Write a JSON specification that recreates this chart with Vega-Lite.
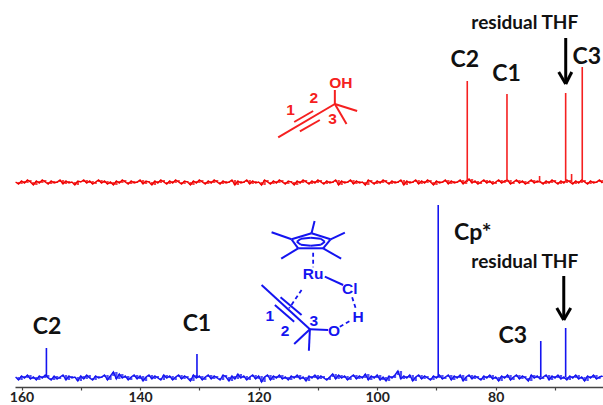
{"$schema":"https://vega.github.io/schema/vega-lite/v6.json","width":588,"height":387,"autosize":{"type":"none"},"padding":{"left":15,"top":0,"right":0,"bottom":18},"background":"white","config":{"view":{"stroke":null}},
"datasets":{
"red":[{"p":161,"v":203},{"p":160.5,"v":201},{"p":160,"v":204},{"p":159.5,"v":202},{"p":159,"v":205},{"p":158.5,"v":203},{"p":158,"v":200},{"p":157.5,"v":204},{"p":157,"v":202},{"p":156.5,"v":205},{"p":156,"v":203},{"p":155.5,"v":201},{"p":155,"v":204},{"p":154.5,"v":202},{"p":154,"v":203},{"p":153.5,"v":205},{"p":153,"v":201},{"p":152.5,"v":204},{"p":152,"v":202},{"p":151.5,"v":203},{"p":151,"v":200},{"p":150.5,"v":204},{"p":150,"v":203},{"p":149.5,"v":205},{"p":149,"v":202},{"p":148.5,"v":204},{"p":148,"v":201},{"p":147.5,"v":203},{"p":147,"v":205},{"p":146.5,"v":202},{"p":146,"v":204},{"p":145.5,"v":201},{"p":145,"v":203},{"p":144.5,"v":200},{"p":144,"v":204},{"p":143.5,"v":202},{"p":143,"v":205},{"p":142.5,"v":203},{"p":142,"v":201},{"p":141.5,"v":204},{"p":141,"v":202},{"p":140.5,"v":203},{"p":140,"v":205},{"p":139.5,"v":201},{"p":139,"v":204},{"p":138.5,"v":203},{"p":138,"v":200},{"p":137.5,"v":204},{"p":137,"v":202},{"p":136.5,"v":205},{"p":136,"v":203},{"p":135.5,"v":201},{"p":135,"v":204},{"p":134.5,"v":202},{"p":134,"v":205},{"p":133.5,"v":203},{"p":133,"v":201},{"p":132.5,"v":204},{"p":132,"v":203},{"p":131.5,"v":200},{"p":131,"v":204},{"p":130.5,"v":202},{"p":130,"v":205},{"p":129.5,"v":203},{"p":129,"v":201},{"p":128.5,"v":204},{"p":128,"v":202},{"p":127.5,"v":205},{"p":127,"v":203},{"p":126.5,"v":201},{"p":126,"v":204},{"p":125.5,"v":202},{"p":125,"v":203},{"p":124.5,"v":205},{"p":124,"v":200},{"p":123.5,"v":204},{"p":123,"v":202},{"p":122.5,"v":203},{"p":122,"v":205},{"p":121.5,"v":201},{"p":121,"v":204},{"p":120.5,"v":202},{"p":120,"v":203},{"p":119.5,"v":200},{"p":119,"v":205},{"p":118.5,"v":203},{"p":118,"v":201},{"p":117.5,"v":204},{"p":117,"v":202},{"p":116.5,"v":205},{"p":116,"v":203},{"p":115.5,"v":201},{"p":115,"v":204},{"p":114.5,"v":203},{"p":114,"v":200},{"p":113.5,"v":204},{"p":113,"v":202},{"p":112.5,"v":205},{"p":112,"v":203},{"p":111.5,"v":201},{"p":111,"v":204},{"p":110.5,"v":202},{"p":110,"v":205},{"p":109.5,"v":203},{"p":109,"v":201},{"p":108.5,"v":204},{"p":108,"v":202},{"p":107.5,"v":203},{"p":107,"v":205},{"p":106.5,"v":200},{"p":106,"v":204},{"p":105.5,"v":202},{"p":105,"v":203},{"p":104.5,"v":205},{"p":104,"v":201},{"p":103.5,"v":204},{"p":103,"v":202},{"p":102.5,"v":203},{"p":102,"v":200},{"p":101.5,"v":205},{"p":101,"v":203},{"p":100.5,"v":201},{"p":100,"v":204},{"p":99.5,"v":202},{"p":99,"v":205},{"p":98.5,"v":203},{"p":98,"v":201},{"p":97.5,"v":204},{"p":97,"v":202},{"p":96.5,"v":203},{"p":96,"v":205},{"p":95.5,"v":200},{"p":95,"v":204},{"p":94.5,"v":202},{"p":94,"v":203},{"p":93.5,"v":205},{"p":93,"v":201},{"p":92.5,"v":204},{"p":92,"v":202},{"p":91.5,"v":205},{"p":91,"v":203},{"p":90.5,"v":200},{"p":90,"v":204},{"p":89.5,"v":202},{"p":89,"v":203},{"p":88.5,"v":205},{"p":88,"v":201},{"p":87.5,"v":204},{"p":87,"v":202},{"p":86.5,"v":203},{"p":86,"v":205},{"p":85.5,"v":201},{"p":85,"v":204},{"p":84.5,"v":206},{"p":84,"v":202},{"p":83.5,"v":204},{"p":83,"v":201},{"p":82.5,"v":203},{"p":82,"v":205},{"p":81.5,"v":202},{"p":81,"v":204},{"p":80.5,"v":201},{"p":80,"v":203},{"p":79.5,"v":205},{"p":79,"v":202},{"p":78.5,"v":204},{"p":78,"v":205},{"p":77.5,"v":201},{"p":77,"v":203},{"p":76.5,"v":205},{"p":76,"v":202},{"p":75.5,"v":204},{"p":75,"v":201},{"p":74.5,"v":203},{"p":74,"v":205},{"p":73.5,"v":202},{"p":73,"v":204},{"p":72.5,"v":203},{"p":72,"v":201},{"p":71.5,"v":204},{"p":71,"v":202},{"p":70.5,"v":205},{"p":70,"v":203},{"p":69.5,"v":201},{"p":69,"v":204},{"p":68.5,"v":202},{"p":68,"v":205},{"p":67.5,"v":203},{"p":67,"v":201},{"p":66.5,"v":204},{"p":66,"v":202},{"p":65.5,"v":205},{"p":65,"v":203},{"p":64.5,"v":201},{"p":64,"v":204},{"p":63.5,"v":202},{"p":63,"v":203},{"p":62.5,"v":205},{"p":62,"v":202}],
"blue":[{"p":161,"v":8},{"p":160.5,"v":5},{"p":160,"v":9},{"p":159.5,"v":7},{"p":159,"v":10},{"p":158.5,"v":6},{"p":158,"v":8},{"p":157.5,"v":5},{"p":157,"v":9},{"p":156.5,"v":7},{"p":156,"v":10},{"p":155.5,"v":7},{"p":155,"v":5},{"p":154.5,"v":9},{"p":154,"v":6},{"p":153.5,"v":8},{"p":153,"v":10},{"p":152.5,"v":5},{"p":152,"v":9},{"p":151.5,"v":7},{"p":151,"v":8},{"p":150.5,"v":4},{"p":150,"v":9},{"p":149.5,"v":6},{"p":149,"v":10},{"p":148.5,"v":7},{"p":148,"v":5},{"p":147.5,"v":9},{"p":147,"v":7},{"p":146.5,"v":8},{"p":146,"v":10},{"p":145.5,"v":5},{"p":145,"v":9},{"p":144.5,"v":13},{"p":144,"v":6},{"p":143.5,"v":11},{"p":143,"v":7},{"p":142.5,"v":9},{"p":142,"v":5},{"p":141.5,"v":8},{"p":141,"v":10},{"p":140.5,"v":6},{"p":140,"v":9},{"p":139.5,"v":4},{"p":139,"v":8},{"p":138.5,"v":10},{"p":138,"v":6},{"p":137.5,"v":9},{"p":137,"v":7},{"p":136.5,"v":5},{"p":136,"v":10},{"p":135.5,"v":7},{"p":135,"v":9},{"p":134.5,"v":5},{"p":134,"v":8},{"p":133.5,"v":10},{"p":133,"v":6},{"p":132.5,"v":9},{"p":132,"v":7},{"p":131.5,"v":4},{"p":131,"v":10},{"p":130.5,"v":7},{"p":130,"v":9},{"p":129.5,"v":5},{"p":129,"v":8},{"p":128.5,"v":10},{"p":128,"v":6},{"p":127.5,"v":9},{"p":127,"v":7},{"p":126.5,"v":5},{"p":126,"v":10},{"p":125.5,"v":8},{"p":125,"v":4},{"p":124.5,"v":9},{"p":124,"v":6},{"p":123.5,"v":11},{"p":123,"v":7},{"p":122.5,"v":9},{"p":122,"v":5},{"p":121.5,"v":8},{"p":121,"v":10},{"p":120.5,"v":6},{"p":120,"v":9},{"p":119.5,"v":3},{"p":119,"v":8},{"p":118.5,"v":10},{"p":118,"v":5},{"p":117.5,"v":9},{"p":117,"v":7},{"p":116.5,"v":10},{"p":116,"v":6},{"p":115.5,"v":8},{"p":115,"v":5},{"p":114.5,"v":9},{"p":114,"v":7},{"p":113.5,"v":10},{"p":113,"v":6},{"p":112.5,"v":8},{"p":112,"v":4},{"p":111.5,"v":9},{"p":111,"v":7},{"p":110.5,"v":10},{"p":110,"v":6},{"p":109.5,"v":9},{"p":109,"v":7},{"p":108.5,"v":5},{"p":108,"v":8},{"p":107.5,"v":11},{"p":107,"v":6},{"p":106.5,"v":10},{"p":106,"v":7},{"p":105.5,"v":9},{"p":105,"v":5},{"p":104.5,"v":8},{"p":104,"v":10},{"p":103.5,"v":6},{"p":103,"v":9},{"p":102.5,"v":7},{"p":102,"v":11},{"p":101.5,"v":5},{"p":101,"v":9},{"p":100.5,"v":7},{"p":100,"v":10},{"p":99.5,"v":5},{"p":99,"v":8},{"p":98.5,"v":4},{"p":98,"v":9},{"p":97.5,"v":7},{"p":97,"v":10},{"p":96.5,"v":14},{"p":96,"v":6},{"p":95.5,"v":9},{"p":95,"v":7},{"p":94.5,"v":10},{"p":94,"v":4},{"p":93.5,"v":8},{"p":93,"v":10},{"p":92.5,"v":6},{"p":92,"v":9},{"p":91.5,"v":7},{"p":91,"v":5},{"p":90.5,"v":9},{"p":90,"v":7},{"p":89.5,"v":10},{"p":89,"v":6},{"p":88.5,"v":8},{"p":88,"v":10},{"p":87.5,"v":5},{"p":87,"v":9},{"p":86.5,"v":7},{"p":86,"v":10},{"p":85.5,"v":4},{"p":85,"v":8},{"p":84.5,"v":10},{"p":84,"v":6},{"p":83.5,"v":9},{"p":83,"v":7},{"p":82.5,"v":5},{"p":82,"v":9},{"p":81.5,"v":7},{"p":81,"v":10},{"p":80.5,"v":6},{"p":80,"v":8},{"p":79.5,"v":4},{"p":79,"v":9},{"p":78.5,"v":7},{"p":78,"v":10},{"p":77.5,"v":5},{"p":77,"v":8},{"p":76.5,"v":10},{"p":76,"v":6},{"p":75.5,"v":9},{"p":75,"v":7},{"p":74.5,"v":4},{"p":74,"v":10},{"p":73.5,"v":7},{"p":73,"v":9},{"p":72.5,"v":6},{"p":72,"v":8},{"p":71.5,"v":10},{"p":71,"v":5},{"p":70.5,"v":9},{"p":70,"v":7},{"p":69.5,"v":10},{"p":69,"v":6},{"p":68.5,"v":8},{"p":68,"v":5},{"p":67.5,"v":9},{"p":67,"v":7},{"p":66.5,"v":10},{"p":66,"v":6},{"p":65.5,"v":8},{"p":65,"v":4},{"p":64.5,"v":9},{"p":64,"v":7},{"p":63.5,"v":10},{"p":63,"v":6},{"p":62.5,"v":8},{"p":62,"v":9}]
},
"data":{"values":[{}]},
"layer":[
{"data":{"name":"red"},"mark":{"type":"line","color":"#f00000","strokeWidth":1.4,"clip":true},"encoding":{"x":{"field":"p","type":"quantitative","scale":{"domain":[161.1,61.9],"nice":false,"zero":false},"axis":{"values":[160,155,150,145,140,135,130,125,120,115,110,105,100,95,90,85,80,75,70,65],"labelExpr":"datum.value%20==0?datum.value:''","title":null,"grid":false,"tickSize":3,"domainColor":"#444444","tickColor":"#444444","domainWidth":1.5,"tickWidth":1.2,"labelFont":"Lato","labelFontWeight":"bold","labelFontSize":14,"labelColor":"#222222","labelPadding":0,"labelOverlap":false,"labelFlush":false}},"y":{"field":"v","type":"quantitative","scale":{"domain":[-2,385],"nice":false,"zero":false},"axis":null},"order":{"field":"p","type":"quantitative","sort":"descending"}}},
{"data":{"name":"blue"},"mark":{"type":"line","color":"#1414f0","strokeWidth":1.4,"clip":true},"encoding":{"x":{"field":"p","type":"quantitative"},"y":{"field":"v","type":"quantitative"},"order":{"field":"p","type":"quantitative","sort":"descending"}}},
{"data":{"name":"red"},"transform":[{"window":[{"op":"lag","field":"v","as":"w"}]},{"filter":"isValid(datum.w)"}],"mark":{"type":"rule","color":"#f00000","strokeWidth":2.4,"opacity":0.75,"clip":true},"encoding":{"x":{"field":"p","type":"quantitative"},"y":{"field":"v","type":"quantitative"},"y2":{"field":"w"}}},
{"data":{"name":"blue"},"transform":[{"window":[{"op":"lag","field":"v","as":"w"}]},{"filter":"isValid(datum.w)"}],"mark":{"type":"rule","color":"#1414f0","strokeWidth":2.4,"opacity":0.75,"clip":true},"encoding":{"x":{"field":"p","type":"quantitative"},"y":{"field":"v","type":"quantitative"},"y2":{"field":"w"}}},
{"data":{"values":[
{"p":84.8,"b":203,"t":304,"c":"r"},{"p":78.1,"b":203,"t":291,"c":"r"},{"p":68.2,"b":203,"t":292,"c":"r"},{"p":65.4,"b":203,"t":318,"c":"r"},{"p":72.6,"b":203,"t":209,"c":"r"},{"p":67.2,"b":203,"t":211,"c":"r"},
{"p":155.8,"b":8,"t":37,"c":"b"},{"p":130.4,"b":8,"t":31,"c":"b"},{"p":89.7,"b":8,"t":180,"c":"b"},{"p":72.4,"b":8,"t":44,"c":"b"},{"p":68.2,"b":8,"t":57,"c":"b"}]},
"mark":{"type":"rule","strokeWidth":1.6},"encoding":{"x":{"field":"p","type":"quantitative"},"y":{"field":"b","type":"quantitative"},"y2":{"field":"t"},"color":{"field":"c","type":"nominal","scale":{"domain":["r","b"],"range":["#f52020","#1414f0"]},"legend":null}}},
{"data":{"values":[
{"a":116.70,"b":107.14,"y":247.7,"y2":281,"c":"r"},{"a":114.00,"b":110.80,"y":263,"y2":274,"c":"r"},{"a":113.04,"b":109.67,"y":253.7,"y2":265,"c":"r"},{"a":107.14,"b":107.14,"y":281,"y2":295,"c":"r"},{"a":107.14,"b":103.38,"y":281,"y2":274,"c":"r"},{"a":107.14,"b":105.17,"y":281,"y2":261,"c":"r"},
{"a":111.07,"b":107.86,"y":151.7,"y2":145.7,"c":"b"},{"a":107.86,"b":109.11,"y":145.7,"y2":136.7,"c":"b"},{"a":109.11,"b":113.33,"y":136.7,"y2":136.7,"c":"b"},{"a":113.33,"b":114.44,"y":136.7,"y2":145.7,"c":"b"},{"a":114.44,"b":111.07,"y":145.7,"y2":151.7,"c":"b"},
{"a":111.07,"b":110.56,"y":151.7,"y2":164,"c":"b"},{"a":107.86,"b":105.45,"y":145.7,"y2":152.3,"c":"b"},{"a":109.11,"b":106.08,"y":136.7,"y2":126.3,"c":"b"},{"a":113.33,"b":116.19,"y":136.7,"y2":126.3,"c":"b"},{"a":114.44,"b":117.81,"y":145.7,"y2":152.7,"c":"b"},
{"a":113.55,"b":112.87,"y":143.3,"y2":146.3,"c":"b"},{"a":112.87,"b":111.19,"y":146.3,"y2":147.3,"c":"b"},{"a":111.19,"b":109.50,"y":147.3,"y2":146.3,"c":"b"},{"a":109.50,"b":108.83,"y":146.3,"y2":143.3,"c":"b"},{"a":108.83,"b":109.50,"y":143.3,"y2":140.3,"c":"b"},{"a":109.50,"b":111.19,"y":140.3,"y2":139.3,"c":"b"},{"a":111.19,"b":112.87,"y":139.3,"y2":140.3,"c":"b"},{"a":112.87,"b":113.55,"y":140.3,"y2":143.3,"c":"b"},
{"a":108.83,"b":105.74,"y":108.3,"y2":100,"c":"b"},{"a":111.35,"b":108.27,"y":55.7,"y2":55,"c":"b"},{"a":119.50,"b":111.35,"y":100,"y2":55.7,"c":"b"},{"a":116.30,"b":112.75,"y":87.7,"y2":70,"c":"b"},{"a":117.26,"b":114.00,"y":80,"y2":63.3,"c":"b"},{"a":111.35,"b":114.00,"y":55.7,"y2":41,"c":"b"},{"a":111.35,"b":111.52,"y":55.7,"y2":34.3,"c":"b"}]},
"mark":{"type":"rule","strokeWidth":2},"encoding":{"x":{"field":"a","type":"quantitative"},"x2":{"field":"b"},"y":{"field":"y","type":"quantitative"},"y2":{"field":"y2"},"color":{"field":"c","type":"nominal","legend":null}}},
{"data":{"values":[
{"a":110.80,"b":110.80,"y":132.3,"y2":117.7},{"a":104.22,"b":103.60,"y":87.7,"y2":76.3},{"a":106.30,"b":104.32,"y":58.3,"y2":65},{"a":112.75,"b":114.85,"y":95,"y2":76.7}]},
"mark":{"type":"rule","strokeWidth":1.8,"strokeDash":[4,3],"color":"#1414f0"},"encoding":{"x":{"field":"a","type":"quantitative"},"x2":{"field":"b"},"y":{"field":"y","type":"quantitative"},"y2":{"field":"y2"}}},
{"data":{"values":[
{"a":68.19,"b":68.19,"y":347,"y2":301},{"a":69.37,"b":68.19,"y":313,"y2":301},{"a":67.17,"b":68.19,"y":313,"y2":301},
{"a":68.52,"b":68.52,"y":109,"y2":65},{"a":69.70,"b":68.52,"y":77,"y2":65},{"a":67.34,"b":68.52,"y":77,"y2":65}]},
"mark":{"type":"rule","strokeWidth":3,"color":"#000000"},"encoding":{"x":{"field":"a","type":"quantitative"},"x2":{"field":"b"},"y":{"field":"y","type":"quantitative"},"y2":{"field":"y2"}}},
{"data":{"values":[{"p":75.10,"y":362.3,"t":"residual THF"},{"p":75.10,"y":123,"t":"residual THF"}]},
"mark":{"type":"text","font":"Lato","fontWeight":"bold","fontSize":19,"color":"#111111","align":"center","baseline":"middle"},"encoding":{"x":{"field":"p","type":"quantitative"},"y":{"field":"y","type":"quantitative"},"text":{"field":"t"}}},
{"data":{"values":[
{"p":85.22,"y":325,"t":"C2"},{"p":78.19,"y":311,"t":"C1"},{"p":64.64,"y":328.3,"t":"C3"},
{"p":155.70,"y":58,"t":"C2"},{"p":130.41,"y":61,"t":"C1"},{"p":83.87,"y":152,"t":"Cp*"},{"p":77.12,"y":49,"t":"C3"}]},
"mark":{"type":"text","font":"Lato","fontWeight":"bold","fontSize":23,"color":"#111111","align":"center","baseline":"middle"},"encoding":{"x":{"field":"p","type":"quantitative"},"y":{"field":"y","type":"quantitative"},"text":{"field":"t"}}},
{"data":{"values":[
{"p":106.13,"y":301.7,"t":"OH","c":"r"},{"p":114.61,"y":275,"t":"1","c":"r"},{"p":110.68,"y":286.7,"t":"2","c":"r"},{"p":107.53,"y":266,"t":"3","c":"r"},
{"p":110.80,"y":111,"t":"Ru","c":"b"},{"p":104.61,"y":96.3,"t":"Cl","c":"b"},{"p":103.21,"y":68.3,"t":"H","c":"b"},{"p":107.26,"y":54.3,"t":"O","c":"b"},{"p":118.10,"y":69,"t":"1","c":"b"},{"p":115.52,"y":54.3,"t":"2","c":"b"},{"p":110.68,"y":64.3,"t":"3","c":"b"}]},
"mark":{"type":"text","font":"Liberation Sans","fontSize":15.5,"fontWeight":"bold","align":"center","baseline":"middle"},"encoding":{"x":{"field":"p","type":"quantitative"},"y":{"field":"y","type":"quantitative"},"text":{"field":"t"},"color":{"field":"c","type":"nominal","legend":null}}}
]}
